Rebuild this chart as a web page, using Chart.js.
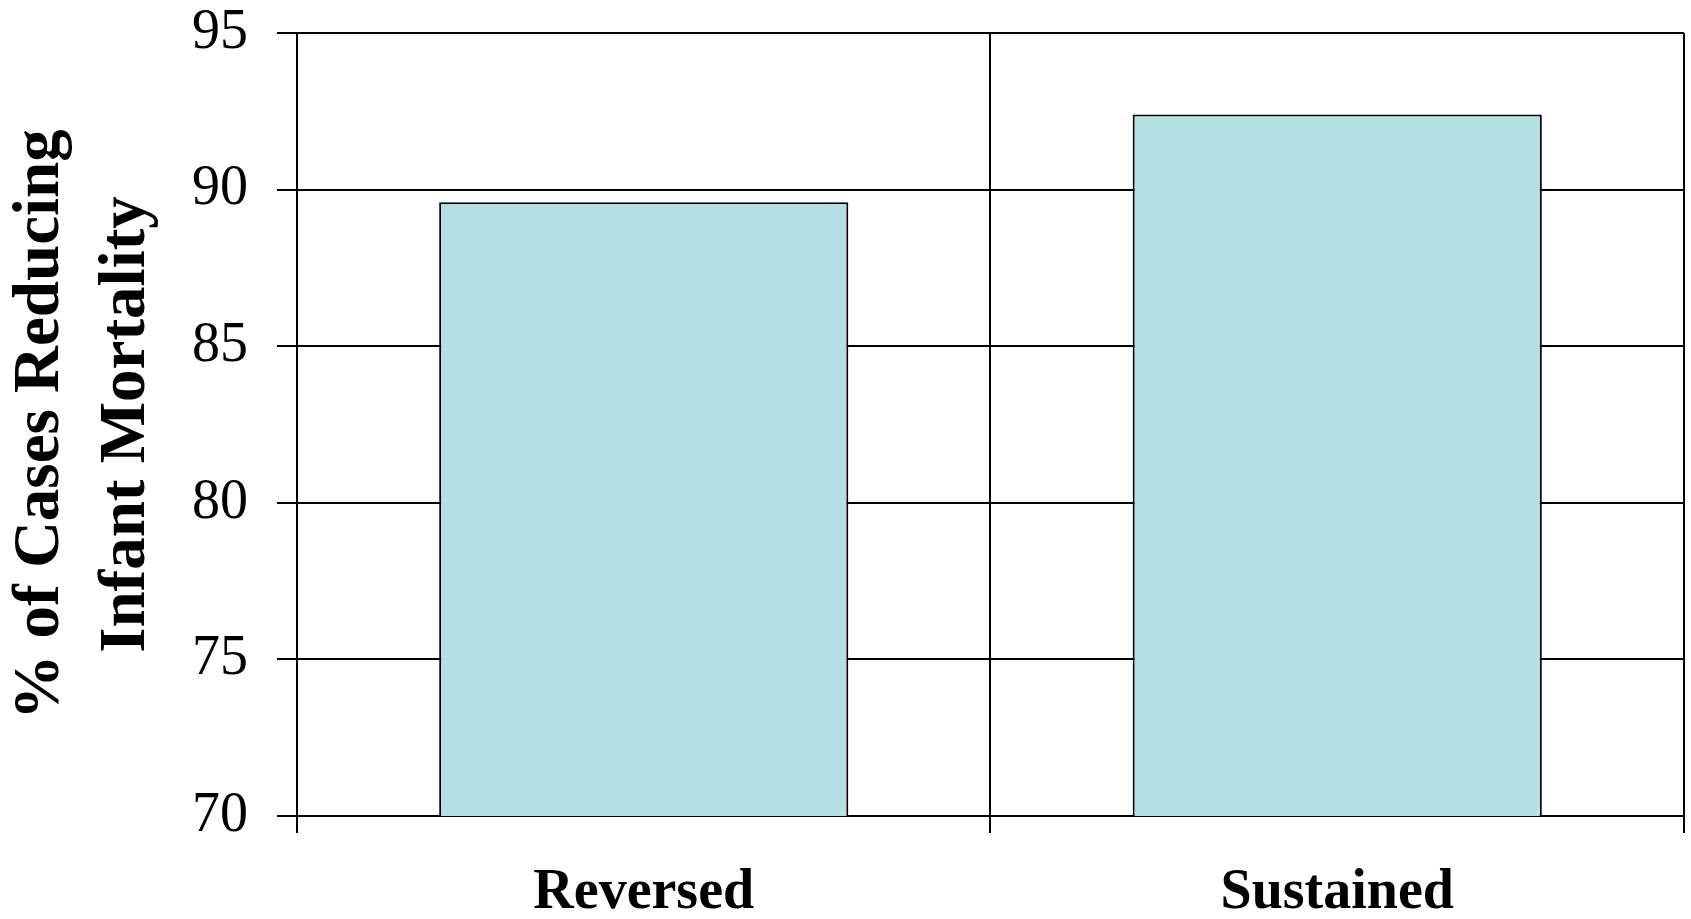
<!DOCTYPE html>
<html>
<head>
<meta charset="utf-8">
<script src="https://cdn.jsdelivr.net/npm/chart.js@4/dist/chart.umd.min.js"></script>
<style>
  html, body { margin: 0; padding: 0; background: #ffffff; }
  #wrap { width: 1691px; height: 919px; }
</style>
</head>
<body>
<div id="wrap"><canvas id="chart" width="1691" height="919"></canvas></div>
<script>
const categories = ["Reversed", "Sustained"];
const pctReducing = [89.6, 92.4];
const yTitleLines = ["% of Cases Reducing", "Infant Mortality"];
const yMin = 70, yMax = 95, yStep = 5;

const serif = "'Liberation Serif', 'Times New Roman', serif";

new Chart(document.getElementById("chart"), {
  type: "bar",
  data: {
    labels: categories,
    datasets: [{
      data: pctReducing,
      backgroundColor: "#b4e0e3",
      borderColor: "#000000",
      borderWidth: 2,
      borderSkipped: false,
      categoryPercentage: 1.0,
      barPercentage: 0.59
    }]
  },
  options: {
    responsive: false,
    animation: false,
    layout: { padding: { top: 33, right: 7, bottom: 0, left: 0 } },
    plugins: { legend: { display: false }, tooltip: { enabled: false } },
    scales: {
      x: {
        offset: true,
        // keep the category label band compact below the plot
        afterFit: (scale) => { scale.height = 103; },
        grid: {
          offset: true,
          color: "#000000",
          lineWidth: 2,
          drawTicks: true,
          tickLength: 17
        },
        border: { display: true, color: "#000000", width: 2 },
        ticks: {
          color: "#000000",
          padding: 33,
          font: { family: serif, size: 56, weight: "bold", lineHeight: 1.0 }
        }
      },
      y: {
        min: yMin,
        max: yMax,
        grid: {
          color: "#000000",
          lineWidth: 2,
          drawTicks: true,
          tickLength: 20
        },
        border: { display: true, color: "#000000", width: 2 },
        ticks: {
          stepSize: yStep,
          color: "#000000",
          padding: 29,
          // small line box so the end labels don't push the plot inward
          font: { family: serif, size: 56, lineHeight: 0.14 }
        },
        title: {
          display: true,
          text: yTitleLines,
          color: "#000000",
          padding: { top: -2, bottom: -7 },
          font: { family: serif, size: 65, weight: "bold", lineHeight: 1.323 }
        }
      }
    }
  }
});
</script>
</body>
</html>
